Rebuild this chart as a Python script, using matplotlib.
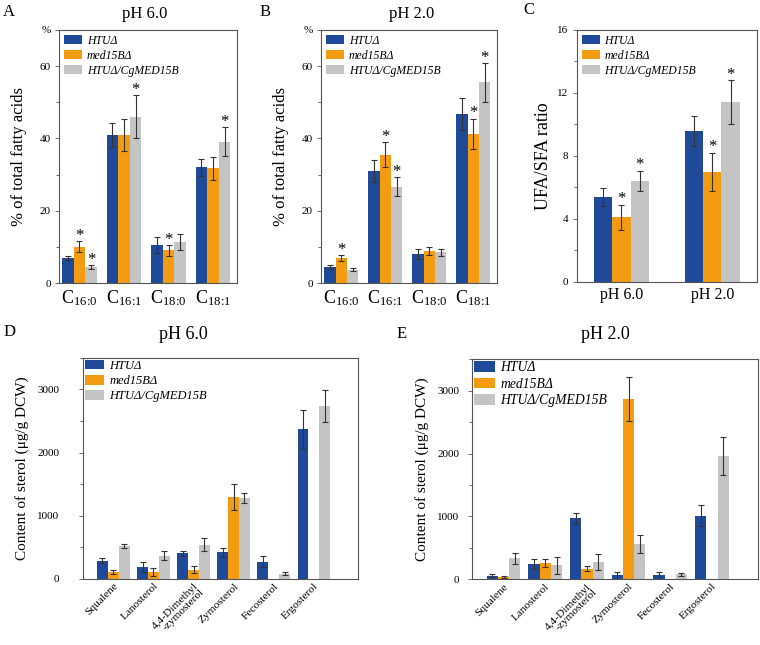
import numpy as np
import matplotlib.pyplot as plt
from matplotlib.ticker import MultipleLocator

plt.rcParams['font.family'] = ['Liberation Serif', 'DejaVu Serif']
plt.rcParams['mathtext.fontset'] = 'custom'
plt.rcParams['mathtext.rm'] = 'Liberation Serif'
plt.rcParams['mathtext.it'] = 'Liberation Serif:italic'

strains = ['HTUΔ', 'med15BΔ', 'HTUΔ/CgMED15B']
colors = ['#1f4a9a', '#f39c12', '#c4c4c4']

# fatty acids (% of total)
fa_labels = [r'C$_{16\!:\!0}$', r'C$_{16\!:\!1}$', r'C$_{18\!:\!0}$', r'C$_{18\!:\!1}$']
fa_ph6 = [[7.0, 41.0, 10.5, 32.0], [10.1, 41.0, 9.0, 31.7], [4.5, 46.0, 11.3, 39.1]]
fa_ph6_err = [[0.5, 3.4, 2.1, 2.3], [1.5, 4.5, 1.5, 3.2], [0.5, 5.9, 2.3, 4.0]]
fa_ph6_sig = [(0, 1), (0, 2), (1, 2), (2, 1), (3, 2)]
fa_ph2 = [[4.5, 31.0, 8.0, 46.8], [7.0, 35.5, 8.8, 41.3], [3.7, 26.7, 8.5, 55.5]]
fa_ph2_err = [[0.5, 3.0, 1.3, 4.5], [0.8, 3.5, 1.1, 4.2], [0.4, 2.6, 1.0, 5.4]]
fa_ph2_sig = [(0, 1), (1, 1), (1, 2), (3, 1), (3, 2)]

# UFA/SFA ratio
ratio_labels = ['pH 6.0', 'pH 2.0']
ratio = [[5.4, 9.6], [4.1, 7.0], [6.4, 11.4]]
ratio_err = [[0.55, 0.95], [0.8, 1.2], [0.65, 1.4]]
ratio_sig = [(0, 1), (0, 2), (1, 1), (1, 2)]

# sterols (ug/g DCW)
sterol_labels = ['Squalene', 'Lanosterol', '4,4-Dimethyl\n-zymosterol', 'Zymosterol', 'Fecosterol', 'Ergosterol']
st_ph6 = [[280, 180, 400, 420, 270, 2370], [100, 100, 140, 1290, np.nan, np.nan], [520, 360, 540, 1280, 80, 2740]]
st_ph6_err = [[40, 80, 35, 70, 90, 310], [35, 60, 55, 210, np.nan, np.nan], [35, 70, 100, 80, 25, 250]]
st_ph2 = [[55, 240, 970, 60, 65, 1010], [30, 260, 170, 2870, np.nan, np.nan], [330, 220, 270, 560, 75, 1960]]
st_ph2_err = [[20, 80, 90, 60, 55, 170], [15, 60, 45, 350, np.nan, np.nan], [85, 140, 130, 150, 25, 300]]


def bars(ax, vals, errs, w, sig=None, star_off=0.0):
    x = np.arange(len(vals[0]))
    for i in range(3):
        ax.bar(x + (i - 1) * w, vals[i], w, color=colors[i], label=strains[i],
               yerr=errs[i], capsize=2.5,
               error_kw=dict(elinewidth=0.8, capthick=0.8, ecolor='#333333'))
    if sig:
        for g, s in sig:
            ax.text(g + (s - 1) * w, vals[s][g] + errs[s][g] + star_off, '*',
                    ha='center', va='baseline', fontsize=12)
    return x


def style(ax, leg_size=8.5, leg_pad=0.25, ypad=3):
    for sp in ax.spines.values():
        sp.set_color('#555555')
        sp.set_linewidth(0.8)
    ax.tick_params(axis='y', direction='out', length=3, width=0.6, labelsize=8,
                   color='#555555', pad=ypad)
    ax.tick_params(axis='y', which='minor', length=2, width=0.6, color='#555555')
    ax.tick_params(axis='x', length=0)
    ax.legend(loc='upper left', frameon=False, prop={'style': 'italic', 'size': leg_size},
              handlelength=1.55, handleheight=0.8, borderaxespad=0.15, borderpad=leg_pad,
              labelspacing=0.25, handletextpad=0.4)


fig = plt.figure(figsize=(7.6, 6.45), dpi=100)

axA = fig.add_axes([0.0776, 0.5612, 0.2344, 0.3923])
axB = fig.add_axes([0.4224, 0.5612, 0.2316, 0.3923])
axC = fig.add_axes([0.759, 0.5628, 0.237, 0.3907])
axD = fig.add_axes([0.109, 0.103, 0.362, 0.342])
axE = fig.add_axes([0.621, 0.102, 0.376, 0.341])

for ax, v, e, sig in [(axA, fa_ph6, fa_ph6_err, fa_ph6_sig), (axB, fa_ph2, fa_ph2_err, fa_ph2_sig)]:
    x = bars(ax, v, e, 0.26, sig, star_off=0.3)
    ax.set_xlim(-0.46, 3.54)
    ax.set_ylim(0, 70)
    ax.set_yticks([0, 20, 40, 60, 70])
    ax.set_yticklabels(['0', '20', '40', '60', '%'])
    ax.yaxis.set_minor_locator(MultipleLocator(10))
    ax.set_xticks(x)
    ax.set_xticklabels(fa_labels, fontsize=13)
    ax.set_ylabel('% of total fatty acids', fontsize=12, labelpad=9)
    style(ax)

x = bars(axC, ratio, ratio_err, 0.2, ratio_sig, star_off=0.12)
axC.set_xlim(-0.49, 1.49)
axC.set_ylim(0, 16)
axC.set_yticks([0, 4, 8, 12, 16])
axC.yaxis.set_minor_locator(MultipleLocator(2))
axC.set_xticks(x)
axC.set_xticklabels(ratio_labels, fontsize=11.5)
axC.set_ylabel('UFA/SFA ratio', fontsize=13)
style(axC)

for ax, v, e, ls, yp, lp in [(axD, st_ph6, st_ph6_err, 9, 14, 6), (axE, st_ph2, st_ph2_err, 9.8, 6, 6)]:
    x = bars(ax, v, e, 0.27)
    ax.set_xlim(-0.76, 6.1)
    ax.set_ylim(0, 3500)
    ax.set_yticks([0, 1000, 2000, 3000])
    ax.yaxis.set_minor_locator(MultipleLocator(500))
    ax.set_xticks(x)
    ax.set_xticklabels(sterol_labels, rotation=45, ha='right', rotation_mode='anchor',
                       fontsize=8.2, linespacing=0.9)
    ax.tick_params(axis='x', pad=2)
    ax.set_ylabel('Content of sterol (μg/g DCW)', fontsize=11, labelpad=lp)
    style(ax, leg_size=ls, leg_pad=0.0, ypad=yp)

fig.text(0.191, 0.978, 'pH 6.0', ha='center', va='center', fontsize=12)
fig.text(0.541, 0.978, 'pH 2.0', ha='center', va='center', fontsize=12)
fig.text(0.241, 0.481, 'pH 6.0', ha='center', va='center', fontsize=13)
fig.text(0.796, 0.481, 'pH 2.0', ha='center', va='center', fontsize=13)

for lab, px, py in [('A', 0.004, 0.982), ('B', 0.342, 0.982), ('C', 0.688, 0.985),
                    ('D', 0.004, 0.485), ('E', 0.522, 0.482)]:
    fig.text(px, py, lab, ha='left', va='center', fontsize=12)

fig.savefig('out.png', dpi=100)
